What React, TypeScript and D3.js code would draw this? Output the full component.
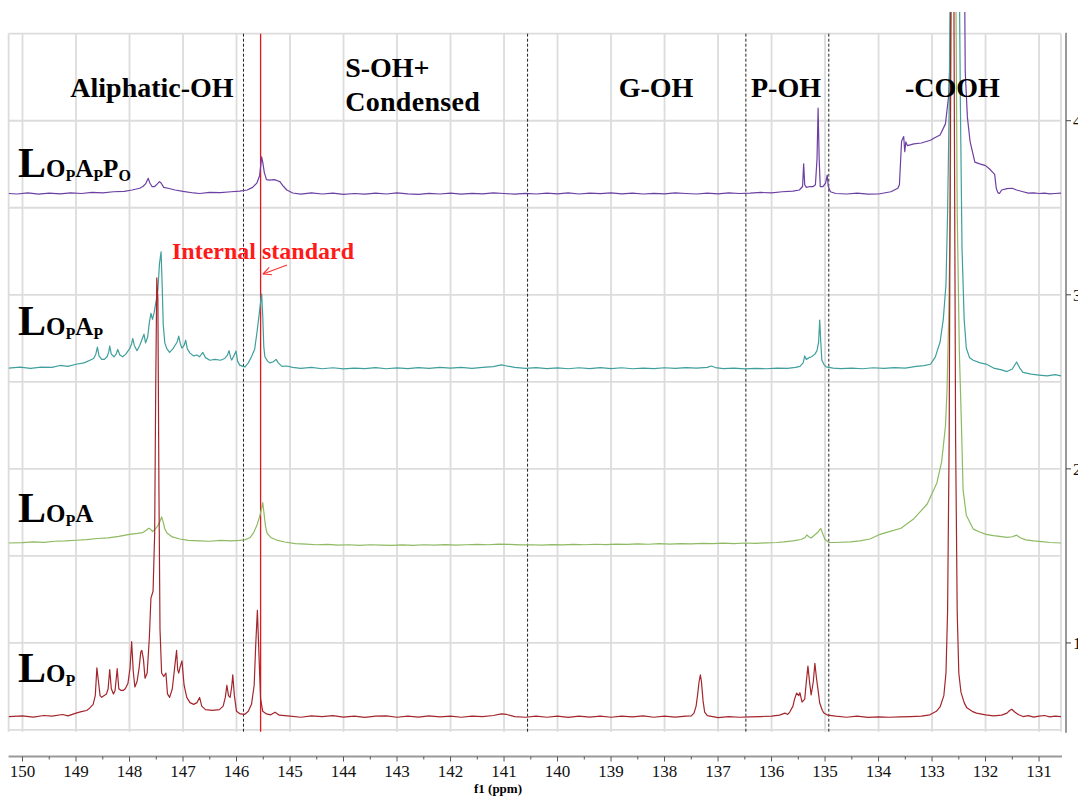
import React, { useRef, useEffect } from "react";
import { select, scaleLinear, line } from "d3";

const SERIF = "'Liberation Serif', 'Times New Roman', serif";

// axis ticks
const ppmTicks = [150, 149, 148, 147, 146, 145, 144, 143, 142, 141, 140, 139, 138, 137, 136, 135, 134, 133, 132, 131];
const intensityTicks = [1, 2, 3, 4];
const gridLevels = [0.5, 1, 1.5, 2, 2.5, 3, 3.5, 4, 4.5];

// integration regions (ppm)
const regionBounds = [145.87, 140.56, 136.48, 134.93];
const internalStandardPpm = 145.55;
const regionLabels = ["Aliphatic-OH", "S-OH+", "Condensed", "G-OH", "P-OH", "-COOH"];

// series
const seriesSubs = [
  [["O", "P"], ["A", "P"], ["P", "O"]],
  [["O", "P"], ["A", "P"]],
  [["O", "P"], ["A", ""]],
  [["O", "P"]],
];
const seriesColors = ["#6c3fa3", "#3e9f9c", "#8dba62", "#a3262c"];
const seriesOffsets = [3.582, 2.579, 1.574, 0.577];

// [ppm, intensity above baseline]
const lopApPo = [
  [150.26, 0.0], [150.1, -0.003], [149.9, 0.003], [149.7, -0.004], [149.5, 0.002], [149.3, -0.002], [149.1, 0.004],
  [148.9, 0.0], [148.7, 0.006], [148.5, 0.004], [148.3, 0.01], [148.1, 0.012], [147.95, 0.02], [147.81, 0.03],
  [147.75, 0.04], [147.7, 0.055], [147.67, 0.075], [147.65, 0.087], [147.62, 0.06], [147.58, 0.04], [147.53, 0.04],
  [147.48, 0.055], [147.44, 0.068], [147.41, 0.06], [147.36, 0.035], [147.28, 0.03], [147.15, 0.02], [147.0, 0.012],
  [146.8, 0.003], [146.69, 0.0], [146.5, 0.006], [146.3, 0.005], [146.1, 0.01], [145.94, 0.014], [145.8, 0.02],
  [145.7, 0.035], [145.62, 0.06], [145.57, 0.1], [145.53, 0.21], [145.51, 0.18], [145.48, 0.12], [145.44, 0.08],
  [145.38, 0.077], [145.3, 0.08], [145.25, 0.075], [145.19, 0.068], [145.12, 0.04], [145.06, 0.02], [144.95, 0.003],
  [144.8, -0.004], [144.6, 0.003], [144.4, -0.003], [144.2, 0.002], [144.0, -0.005], [143.8, 0.0], [143.6, -0.004],
  [143.4, 0.002], [143.2, -0.003], [143.0, 0.003], [142.8, -0.002], [142.6, -0.005], [142.4, 0.001], [142.2, -0.003],
  [142.0, 0.002], [141.8, -0.004], [141.6, 0.001], [141.4, -0.002], [141.2, 0.003], [141.0, 0.0], [140.8, -0.004],
  [140.6, 0.001], [140.4, -0.003], [140.2, 0.002], [140.0, -0.002], [139.8, 0.003], [139.6, -0.003], [139.4, 0.002],
  [139.2, -0.001], [139.0, 0.003], [138.8, -0.002], [138.6, 0.002], [138.4, -0.003], [138.2, 0.001], [138.0, -0.002],
  [137.8, 0.003], [137.6, 0.0], [137.4, -0.003], [137.2, 0.002], [137.0, -0.002], [136.8, 0.003], [136.6, 0.0],
  [136.4, 0.002], [136.2, 0.006], [136.0, 0.004], [135.8, 0.01], [135.6, 0.014], [135.48, 0.02], [135.42, 0.04],
  [135.4, 0.17], [135.38, 0.05], [135.35, 0.035], [135.28, 0.04], [135.22, 0.04], [135.18, 0.05], [135.15, 0.2],
  [135.13, 0.49], [135.11, 0.2], [135.09, 0.04], [135.04, 0.04], [134.99, 0.06], [134.96, 0.106], [134.94, 0.04],
  [134.9, 0.01], [134.8, 0.0], [134.6, -0.003], [134.4, 0.002], [134.2, -0.004], [134.0, -0.003], [133.77, 0.01],
  [133.64, 0.03], [133.61, 0.05], [133.57, 0.3], [133.53, 0.327], [133.51, 0.24], [133.49, 0.296], [133.46, 0.275],
  [133.34, 0.285], [133.2, 0.29], [133.03, 0.306], [132.95, 0.32], [132.85, 0.336], [132.75, 0.4], [132.69, 0.56],
  [132.66, 0.8], [132.63, 2], [132.58, 5], [132.52, 8], [132.46, 5], [132.41, 2], [132.38, 0.7], [132.34, 0.44],
  [132.29, 0.3], [132.2, 0.18], [132.11, 0.17], [132.0, 0.16], [131.93, 0.142], [131.86, 0.12], [131.83, 0.11],
  [131.8, 0.03], [131.77, 0.005], [131.74, 0.0], [131.7, 0.02], [131.6, 0.028], [131.5, 0.03], [131.42, 0.02],
  [131.3, 0.01], [131.2, 0.002], [131.1, 0.004], [131.0, 0.0], [130.9, 0.002], [130.8, -0.002], [130.7, 0.0],
  [130.59, 0.002],
];

const lopAp = [
  [150.26, 0.0], [150.05, 0.005], [149.85, -0.002], [149.65, 0.006], [149.45, 0.004], [149.3, 0.015], [149.15, 0.01],
  [149.0, 0.022], [148.85, 0.03], [148.74, 0.045], [148.67, 0.055], [148.63, 0.08], [148.6, 0.12], [148.57, 0.07],
  [148.52, 0.05], [148.47, 0.05], [148.42, 0.065], [148.39, 0.09], [148.37, 0.126], [148.34, 0.08], [148.29, 0.065],
  [148.25, 0.08], [148.22, 0.107], [148.18, 0.075], [148.13, 0.065], [148.07, 0.08], [148.0, 0.11], [147.96, 0.14],
  [147.94, 0.17], [147.91, 0.13], [147.86, 0.1], [147.81, 0.13], [147.76, 0.17], [147.73, 0.195], [147.7, 0.145],
  [147.66, 0.18], [147.63, 0.26], [147.6, 0.315], [147.57, 0.28], [147.54, 0.32], [147.5, 0.39], [147.47, 0.45],
  [147.44, 0.6], [147.41, 0.668], [147.39, 0.48], [147.37, 0.25], [147.34, 0.145], [147.3, 0.11], [147.25, 0.09],
  [147.19, 0.11], [147.15, 0.13], [147.11, 0.15], [147.08, 0.184], [147.05, 0.14], [147.02, 0.115], [146.98, 0.13],
  [146.95, 0.16], [146.92, 0.11], [146.87, 0.086], [146.8, 0.07], [146.74, 0.075], [146.69, 0.065], [146.63, 0.09],
  [146.58, 0.06], [146.5, 0.045], [146.4, 0.05], [146.3, 0.045], [146.22, 0.055], [146.17, 0.075], [146.14, 0.1],
  [146.11, 0.06], [146.09, 0.046], [146.05, 0.07], [146.01, 0.098], [145.98, 0.04], [145.94, 0.017], [145.88, 0.01],
  [145.84, 0.007], [145.78, 0.03], [145.72, 0.065], [145.66, 0.11], [145.62, 0.2], [145.58, 0.3], [145.55, 0.38],
  [145.53, 0.426], [145.51, 0.3], [145.49, 0.12], [145.47, 0.065], [145.42, 0.04], [145.38, 0.03], [145.32, 0.035],
  [145.26, 0.05], [145.22, 0.03], [145.15, 0.01], [145.06, 0.012], [144.95, 0.004], [144.8, -0.002], [144.6, 0.004],
  [144.4, -0.004], [144.2, 0.002], [144.0, -0.005], [143.8, 0.0], [143.6, -0.003], [143.4, 0.003], [143.2, -0.004],
  [143.0, 0.001], [142.8, -0.003], [142.6, 0.003], [142.4, -0.002], [142.2, 0.004], [142.0, 0.0], [141.8, 0.004],
  [141.6, -0.002], [141.4, 0.004], [141.2, 0.008], [141.05, 0.018], [140.95, 0.012], [140.8, 0.004], [140.6, -0.002],
  [140.4, 0.003], [140.2, -0.003], [140.0, 0.001], [139.8, -0.004], [139.6, 0.002], [139.4, -0.003], [139.2, 0.003],
  [139.0, -0.003], [138.8, 0.002], [138.6, -0.004], [138.4, 0.0], [138.2, -0.003], [138.0, 0.002], [137.8, -0.002],
  [137.6, 0.003], [137.4, 0.0], [137.2, 0.004], [137.13, 0.012], [137.05, 0.003], [136.9, -0.003], [136.7, 0.0],
  [136.5, -0.005], [136.3, -0.002], [136.1, -0.004], [135.9, 0.0], [135.7, -0.002], [135.55, 0.004], [135.47, 0.01],
  [135.41, 0.03], [135.38, 0.07], [135.35, 0.05], [135.3, 0.06], [135.25, 0.065], [135.19, 0.08], [135.15, 0.1],
  [135.12, 0.15], [135.1, 0.276], [135.08, 0.15], [135.06, 0.046], [135.02, 0.02], [134.98, 0.007], [134.85, 0.0],
  [134.7, -0.003], [134.5, 0.0], [134.3, -0.004], [134.1, 0.002], [133.9, -0.002], [133.7, 0.003], [133.5, 0.0],
  [133.3, 0.01], [133.15, 0.014], [133.03, 0.022], [132.94, 0.063], [132.85, 0.15], [132.79, 0.28], [132.74, 0.48],
  [132.71, 0.89], [132.68, 1.5], [132.64, 3], [132.61, 5.5], [132.58, 8], [132.55, 5.5], [132.51, 3], [132.47, 1.5],
  [132.44, 0.69], [132.4, 0.28], [132.36, 0.115], [132.3, 0.06], [132.23, 0.045], [132.1, 0.03], [131.99, 0.023],
  [131.85, 0.0], [131.7, -0.01], [131.6, -0.02], [131.5, -0.005], [131.42, 0.035], [131.36, 0.0], [131.3, -0.025],
  [131.15, -0.035], [131.0, -0.04], [130.85, -0.045], [130.7, -0.038], [130.59, -0.045],
];

const lopA = [
  [150.26, 0.0], [150.0, 0.002], [149.8, 0.006], [149.6, 0.004], [149.4, 0.01], [149.2, 0.012], [149.0, 0.016],
  [148.8, 0.02], [148.6, 0.026], [148.4, 0.03], [148.2, 0.038], [148.0, 0.05], [147.85, 0.055], [147.75, 0.06],
  [147.68, 0.075], [147.64, 0.085], [147.61, 0.08], [147.57, 0.066], [147.52, 0.08], [147.47, 0.1], [147.43, 0.125],
  [147.4, 0.15], [147.37, 0.12], [147.34, 0.08], [147.3, 0.057], [147.2, 0.035], [147.06, 0.023], [146.9, 0.015],
  [146.69, 0.012], [146.5, 0.01], [146.3, 0.015], [146.1, 0.012], [145.95, 0.015], [145.85, 0.018], [145.75, 0.03],
  [145.68, 0.06], [145.62, 0.1], [145.57, 0.15], [145.53, 0.2], [145.51, 0.232], [145.49, 0.18], [145.46, 0.1],
  [145.43, 0.057], [145.35, 0.03], [145.25, 0.017], [145.1, 0.006], [144.9, -0.004], [144.7, -0.006], [144.5, -0.01],
  [144.3, -0.008], [144.1, -0.012], [143.9, -0.01], [143.7, -0.013], [143.5, -0.01], [143.3, -0.012], [143.1, -0.014],
  [142.9, -0.011], [142.7, -0.013], [142.5, -0.01], [142.3, -0.012], [142.1, -0.009], [141.9, -0.012], [141.7, -0.01],
  [141.5, -0.008], [141.3, -0.01], [141.1, -0.006], [140.9, -0.008], [140.7, -0.011], [140.5, -0.01], [140.3, -0.012],
  [140.1, -0.009], [139.9, -0.011], [139.7, -0.008], [139.5, -0.01], [139.3, -0.007], [139.1, -0.009], [138.9, -0.006],
  [138.7, -0.008], [138.5, -0.005], [138.3, -0.007], [138.1, -0.004], [137.9, -0.006], [137.7, -0.003], [137.5, -0.005],
  [137.3, -0.002], [137.1, -0.004], [136.9, -0.001], [136.7, -0.003], [136.5, 0.0], [136.3, -0.002], [136.1, 0.001],
  [135.9, 0.003], [135.77, 0.006], [135.6, 0.012], [135.45, 0.02], [135.38, 0.03], [135.34, 0.046], [135.3, 0.035],
  [135.26, 0.029], [135.2, 0.045], [135.14, 0.06], [135.08, 0.084], [135.04, 0.05], [135.0, 0.02], [134.93, 0.004],
  [134.8, 0.003], [134.53, 0.006], [134.35, 0.012], [134.16, 0.023], [133.97, 0.05], [133.8, 0.065], [133.58, 0.085],
  [133.34, 0.14], [133.09, 0.224], [132.91, 0.345], [132.82, 0.468], [132.75, 0.67], [132.72, 0.876], [132.69, 1.28],
  [132.66, 1.9], [132.63, 4], [132.6, 8], [132.57, 4], [132.53, 1.9], [132.49, 1.1], [132.45, 0.67], [132.42, 0.305],
  [132.36, 0.16], [132.23, 0.08], [132.1, 0.062], [131.99, 0.05], [131.85, 0.042], [131.74, 0.038], [131.6, 0.032],
  [131.5, 0.036], [131.42, 0.045], [131.35, 0.03], [131.25, 0.018], [131.1, 0.012], [130.95, 0.008], [130.8, 0.003],
  [130.59, 0.0],
];

const lop = [
  [150.26, 0.0], [150.0, 0.004], [149.8, -0.003], [149.6, 0.006], [149.45, 0.002], [149.25, 0.012], [149.15, 0.004],
  [149.0, 0.02], [148.9, 0.028], [148.8, 0.035], [148.74, 0.05], [148.68, 0.07], [148.64, 0.12], [148.61, 0.28],
  [148.58, 0.2], [148.55, 0.12], [148.52, 0.11], [148.48, 0.12], [148.43, 0.13], [148.4, 0.16], [148.37, 0.27],
  [148.34, 0.16], [148.3, 0.13], [148.27, 0.15], [148.23, 0.275], [148.2, 0.16], [148.16, 0.15], [148.12, 0.15],
  [148.08, 0.16], [148.03, 0.19], [147.99, 0.28], [147.96, 0.43], [147.93, 0.26], [147.9, 0.17], [147.86, 0.2],
  [147.82, 0.28], [147.79, 0.37], [147.77, 0.38], [147.74, 0.33], [147.71, 0.22], [147.67, 0.25], [147.63, 0.45],
  [147.6, 0.68], [147.56, 0.72], [147.53, 1.05], [147.51, 1.9], [147.49, 2.52], [147.47, 2.4], [147.45, 1.3],
  [147.43, 0.5], [147.4, 0.25], [147.36, 0.23], [147.32, 0.25], [147.29, 0.13], [147.25, 0.11], [147.2, 0.16],
  [147.15, 0.3], [147.12, 0.38], [147.1, 0.27], [147.08, 0.25], [147.05, 0.29], [147.02, 0.32], [146.98, 0.18],
  [146.93, 0.11], [146.87, 0.08], [146.8, 0.07], [146.74, 0.08], [146.69, 0.11], [146.65, 0.06], [146.58, 0.04],
  [146.45, 0.035], [146.32, 0.04], [146.25, 0.06], [146.21, 0.11], [146.18, 0.18], [146.15, 0.12], [146.12, 0.11],
  [146.09, 0.17], [146.07, 0.24], [146.04, 0.12], [146.0, 0.03], [145.93, 0.015], [145.85, 0.012], [145.78, 0.03],
  [145.72, 0.07], [145.67, 0.18], [145.64, 0.42], [145.61, 0.61], [145.58, 0.35], [145.55, 0.1], [145.51, 0.03],
  [145.44, 0.015], [145.36, 0.01], [145.28, 0.025], [145.2, 0.008], [145.0, 0.003], [144.8, -0.004], [144.6, 0.004],
  [144.4, 0.0], [144.2, 0.005], [144.0, -0.003], [143.8, 0.003], [143.6, -0.005], [143.4, 0.002], [143.2, 0.004],
  [143.0, -0.004], [142.8, 0.002], [142.6, -0.003], [142.4, 0.004], [142.2, -0.002], [142.0, 0.003], [141.8, -0.004],
  [141.6, 0.002], [141.4, 0.0], [141.2, 0.006], [141.05, 0.015], [140.95, 0.012], [140.8, 0.0], [140.6, -0.004],
  [140.4, 0.003], [140.2, -0.004], [140.0, 0.002], [139.8, -0.005], [139.6, 0.003], [139.4, -0.003], [139.2, 0.002],
  [139.0, -0.004], [138.8, 0.003], [138.6, -0.002], [138.4, 0.004], [138.2, -0.004], [138.0, 0.002], [137.8, -0.003],
  [137.6, 0.003], [137.5, 0.004], [137.45, 0.02], [137.41, 0.06], [137.38, 0.13], [137.355, 0.2], [137.33, 0.24],
  [137.31, 0.2], [137.28, 0.09], [137.25, 0.025], [137.2, 0.005], [137.0, -0.006], [136.8, 0.0], [136.6, -0.004],
  [136.4, -0.002], [136.2, 0.0], [136.0, 0.002], [135.85, 0.008], [135.75, 0.02], [135.7, 0.012], [135.66, 0.026],
  [135.6, 0.06], [135.57, 0.1], [135.53, 0.135], [135.49, 0.12], [135.47, 0.137], [135.43, 0.083], [135.38, 0.1],
  [135.35, 0.2], [135.32, 0.29], [135.29, 0.2], [135.26, 0.124], [135.22, 0.2], [135.19, 0.306], [135.16, 0.22],
  [135.13, 0.15], [135.1, 0.078], [135.05, 0.035], [135.02, 0.02], [134.95, 0.008], [134.8, 0.002], [134.6, -0.004],
  [134.4, 0.002], [134.2, -0.005], [134.0, -0.002], [133.8, -0.004], [133.6, -0.002], [133.4, 0.0], [133.2, 0.002],
  [133.04, 0.01], [132.92, 0.03], [132.85, 0.055], [132.78, 0.12], [132.74, 0.25], [132.71, 0.6], [132.68, 1.6],
  [132.65, 4], [132.62, 8], [132.59, 4], [132.56, 1.6], [132.53, 0.6], [132.5, 0.25], [132.46, 0.14], [132.4, 0.08],
  [132.35, 0.05], [132.25, 0.03], [132.17, 0.02], [132.0, 0.01], [131.85, 0.004], [131.7, 0.008], [131.6, 0.02],
  [131.55, 0.035], [131.51, 0.042], [131.45, 0.025], [131.38, 0.01], [131.3, 0.0], [131.2, 0.005], [131.1, -0.003],
  [131.0, 0.002], [130.9, 0.006], [130.8, -0.002], [130.7, 0.003], [130.59, 0.0],
];

const spectra = [lopApPo, lopAp, lopA, lop];

const NmrStack = () => {
  const svgRef = useRef<SVGSVGElement>(null);

  useEffect(() => {
    const svg = select(svgRef.current);
    svg.selectAll("*").remove();

    const left = 8.6, right = 1061, top = 33.7, bottom = 731.7;

    // scales
    const xScale = scaleLinear().domain([150.26, 130.59]).range([left, right]);
    const yScale = scaleLinear().domain([0.49, 4.5]).range([bottom, top]);

    svg.append("defs").append("clipPath").attr("id", "plot-clip")
      .append("rect").attr("x", left).attr("y", 12).attr("width", right - left).attr("height", bottom - 12);

    // grid
    const grid = svg.append("g").attr("stroke", "#dcdcdc").attr("stroke-width", 1.8);
    grid.selectAll(".hgrid").data(gridLevels).join("line")
      .attr("x1", left).attr("x2", right)
      .attr("y1", d => yScale(d)).attr("y2", d => yScale(d));
    grid.selectAll(".vgrid").data(ppmTicks).join("line")
      .attr("x1", d => xScale(d)).attr("x2", d => xScale(d))
      .attr("y1", top).attr("y2", bottom);
    grid.append("line").attr("x1", left).attr("x2", left).attr("y1", top).attr("y2", bottom);
    grid.append("line").attr("x1", right).attr("x2", right).attr("y1", top).attr("y2", bottom);

    // region dividers
    svg.append("g").selectAll("line").data(regionBounds).join("line")
      .attr("x1", d => xScale(d)).attr("x2", d => xScale(d))
      .attr("y1", top).attr("y2", bottom)
      .attr("stroke", "#222").attr("stroke-width", 1).attr("stroke-dasharray", "3,2");

    svg.append("line")
      .attr("x1", xScale(internalStandardPpm)).attr("x2", xScale(internalStandardPpm))
      .attr("y1", top).attr("y2", bottom)
      .attr("stroke", "#e8141c").attr("stroke-width", 1.3);

    // spectra
    const lines = svg.append("g").attr("clip-path", "url(#plot-clip)");
    spectra.forEach((data, i) => {
      const gen = line<number[]>()
        .x(d => xScale(d[0]))
        .y(d => yScale(d[1] + seriesOffsets[i]));
      lines.append("path")
        .attr("d", gen(data))
        .attr("fill", "none")
        .attr("stroke", seriesColors[i])
        .attr("stroke-width", 1.2)
        .attr("stroke-linejoin", "round");
    });

    // region labels
    const labels = svg.append("g")
      .attr("font-family", SERIF).attr("font-weight", "bold").attr("font-size", 28).attr("fill", "#000");
    labels.append("text").attr("x", xScale(147.58)).attr("y", 97).attr("text-anchor", "middle").text(regionLabels[0]);
    labels.append("text").attr("x", xScale(143.97)).attr("y", 77).text(regionLabels[1]);
    labels.append("text").attr("x", xScale(143.97)).attr("y", 111).attr("letter-spacing", 0.3).text(regionLabels[2]);
    labels.append("text").attr("x", xScale(138.16)).attr("y", 97).attr("text-anchor", "middle").text(regionLabels[3]);
    labels.append("text").attr("x", xScale(135.73)).attr("y", 97).attr("text-anchor", "middle").text(regionLabels[4]);
    labels.append("text").attr("x", xScale(132.62)).attr("y", 97).attr("text-anchor", "middle").text(regionLabels[5]);

    // series names
    const nameY = [177, 335, 522, 682];
    seriesSubs.forEach((parts, i) => {
      const t = svg.append("text")
        .attr("x", 18).attr("y", nameY[i])
        .attr("font-family", SERIF).attr("font-weight", "bold").attr("fill", "#000");
      t.append("tspan").attr("font-size", 42).text("L");
      let shifted = false;
      parts.forEach(([main, sub]) => {
        t.append("tspan").attr("font-size", 25).attr("dy", shifted ? -4 : 0).text(main);
        shifted = false;
        if (sub) {
          t.append("tspan").attr("font-size", 16).attr("dy", 4).text(sub);
          shifted = true;
        }
      });
    });

    // internal standard annotation
    svg.append("text")
      .attr("x", 172).attr("y", 259)
      .attr("font-family", SERIF).attr("font-weight", "bold").attr("font-size", 24)
      .attr("fill", "#ff1a1a").text("Internal standard");
    const tip = [263, 274], tail = [287, 265];
    const ang = Math.atan2(tail[1] - tip[1], tail[0] - tip[0]);
    const arrow = svg.append("g").attr("stroke", "#ff3030").attr("stroke-width", 1.1).attr("fill", "none");
    arrow.append("line").attr("x1", tail[0]).attr("y1", tail[1]).attr("x2", tip[0]).attr("y2", tip[1]);
    [-0.45, 0.45].forEach(a => {
      arrow.append("line")
        .attr("x1", tip[0]).attr("y1", tip[1])
        .attr("x2", tip[0] + 9 * Math.cos(ang + a)).attr("y2", tip[1] + 9 * Math.sin(ang + a));
    });

    // bottom axis
    const axisY = 756.5;
    const xAxis = svg.append("g");
    xAxis.append("line").attr("x1", left).attr("x2", right + 1).attr("y1", axisY).attr("y2", axisY)
      .attr("stroke", "#999").attr("stroke-width", 2);
    xAxis.selectAll(".major").data(ppmTicks).join("line")
      .attr("x1", d => xScale(d)).attr("x2", d => xScale(d))
      .attr("y1", axisY).attr("y2", axisY + 5).attr("stroke", "#555");
    xAxis.selectAll(".minor").data(ppmTicks.map(d => d + 0.5)).join("line")
      .attr("x1", d => xScale(d)).attr("x2", d => xScale(d))
      .attr("y1", axisY).attr("y2", axisY + 3).attr("stroke", "#555");
    xAxis.selectAll("text").data(ppmTicks).join("text")
      .attr("x", d => xScale(d)).attr("y", 777)
      .attr("text-anchor", "middle")
      .attr("font-family", SERIF).attr("font-size", 17).attr("fill", "#111")
      .text(d => d);
    svg.append("text")
      .attr("x", 498).attr("y", 793).attr("text-anchor", "middle")
      .attr("font-family", SERIF).attr("font-weight", "bold").attr("font-size", 13)
      .text("f1 (ppm)");

    // right axis (labels run off the edge, as in the source)
    const axisX = 1066;
    const yAxis = svg.append("g");
    yAxis.append("line").attr("x1", axisX).attr("x2", axisX).attr("y1", top - 1).attr("y2", bottom + 1)
      .attr("stroke", "#999").attr("stroke-width", 2);
    yAxis.selectAll(".tick").data(intensityTicks).join("line")
      .attr("x1", axisX).attr("x2", axisX + 5)
      .attr("y1", d => yScale(d)).attr("y2", d => yScale(d)).attr("stroke", "#444");
    yAxis.selectAll("text").data(intensityTicks).join("text")
      .attr("x", axisX + 7).attr("y", d => yScale(d) + 6)
      .attr("font-family", SERIF).attr("font-size", 17).attr("fill", "#111")
      .text(d => d);
  }, []);

  return (
    <svg ref={svgRef} width={1078} height={799}
      style={{ position: "absolute", left: 0, top: 0, background: "#fff" }} />
  );
};

export default function App() {
  return <NmrStack />;
}
